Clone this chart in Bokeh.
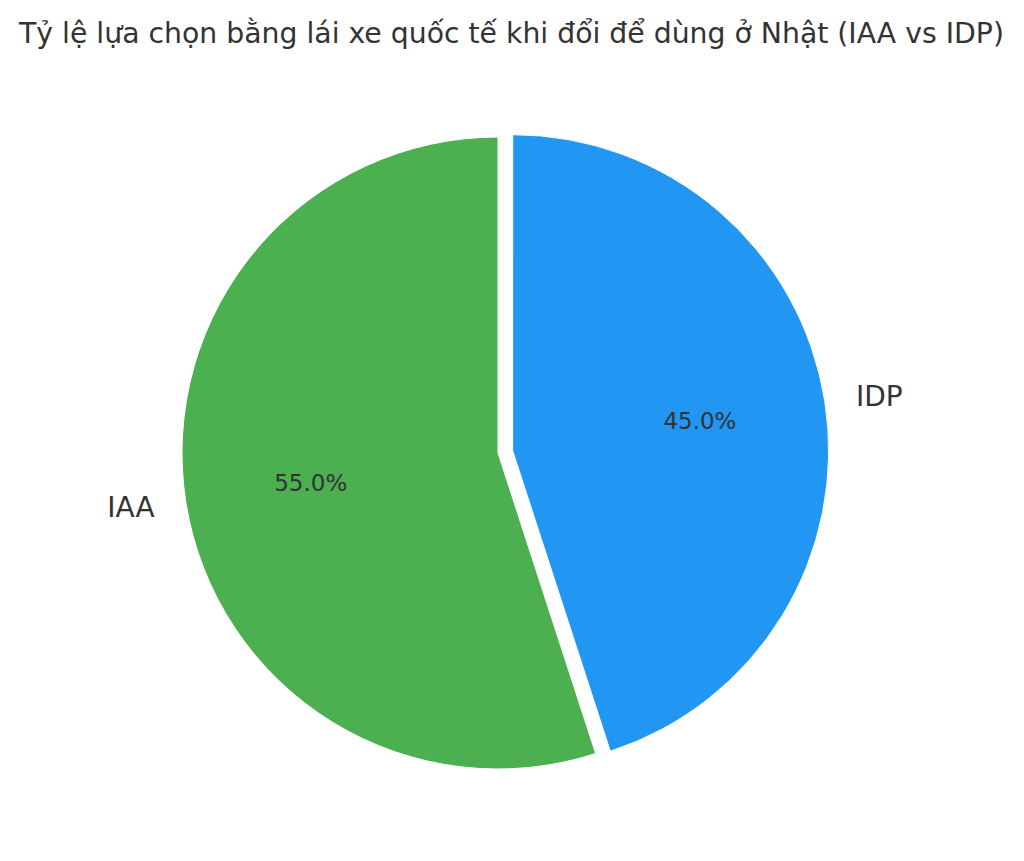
import math
from bokeh.plotting import figure
from bokeh.models import Range1d, Label, ColumnDataSource
from bokeh.core.properties import value
from bokeh.embed import file_html
from bokeh.resources import INLINE

title_text = "Tỷ lệ lựa chọn bằng lái xe quốc tế khi đổi để dùng ở Nhật (IAA vs IDP)"
labels = ["IDP", "IAA"]
values = [45.0, 55.0]
colors = ["#2196F3", "#4CAF50"]
explode = [0.047, 0.0]

W, H = 1024, 861
R_PX = 316.0
CX, CY = 497.5, 452.5  # pie centre in figure pixels (from top-left)

p = figure(width=W, height=H, output_backend="svg", toolbar_location=None,
           x_range=Range1d(-CX / R_PX, (W - CX) / R_PX),
           y_range=Range1d(-(H - CY) / R_PX, CY / R_PX),
           min_border=0)
p.axis.visible = False
p.grid.visible = False
p.outline_line_color = None
p.background_fill_color = "white"
p.border_fill_color = "white"

total = sum(values)
start = 90.0
rows = dict(x=[], y=[], s=[], e=[], c=[], lx=[], ly=[], lab=[], la=[], px=[], py=[], pct=[])
for lab, v, col, ex in zip(labels, values, colors, explode):
    span = 360.0 * v / total
    end = start - span  # clockwise
    mid = math.radians((start + end) / 2)
    ox, oy = ex * math.cos(mid), ex * math.sin(mid)
    rows["x"].append(ox); rows["y"].append(oy)
    rows["s"].append(math.radians(end)); rows["e"].append(math.radians(start))
    rows["c"].append(col)
    rows["lx"].append(ox + 1.1 * math.cos(mid)); rows["ly"].append(oy + 1.1 * math.sin(mid))
    rows["lab"].append(lab)
    rows["la"].append("left" if math.cos(mid) > 0 else "right")
    rows["px"].append(ox + 0.6 * math.cos(mid)); rows["py"].append(oy + 0.6 * math.sin(mid))
    rows["pct"].append(f"{v:.1f}%")
    start = end

src = ColumnDataSource(rows)
p.wedge(x="x", y="y", radius=1.0, start_angle="s", end_angle="e",
        fill_color="c", line_color="white", line_width=1, source=src)
p.text(x="lx", y="ly", text="lab", text_align="la", text_baseline="middle",
       text_font=value("DejaVu Sans"), text_font_size="28px", text_color="#333333", source=src)
p.text(x="px", y="py", text="pct", text_align="center", text_baseline="middle",
       text_font=value("DejaVu Sans"), text_font_size="23px", text_color="#333333", source=src)

p.add_layout(Label(x=511, y=H - 33, x_units="screen", y_units="screen", text=title_text,
                   text_align="center", text_baseline="middle", text_font="DejaVu Sans",
                   text_font_size="28.3px", text_color="#333333"))

open("out.html", "w").write(file_html(p, INLINE))
